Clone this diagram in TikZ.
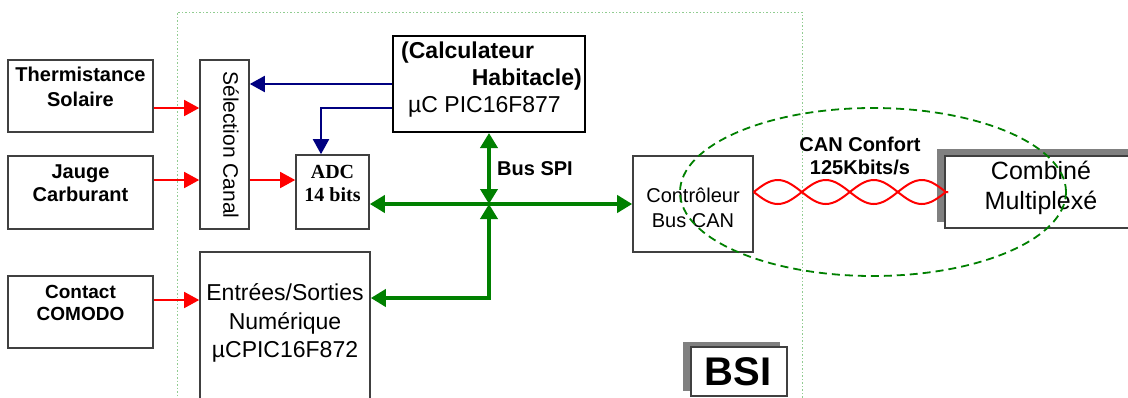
\documentclass[tikz,border=0pt]{standalone}
\usepackage{fontspec}
\setmainfont{Liberation Sans}
\newfontfamily\timesf{Liberation Serif}
\usetikzlibrary{arrows.meta,shapes.geometric,calc}
\definecolor{boxgray}{HTML}{404040}
\definecolor{navyb}{RGB}{0,0,128}
\definecolor{dgreen}{RGB}{0,128,0}
\definecolor{lgreen}{HTML}{90CC90}
\definecolor{shadowgray}{HTML}{808080}
\newcommand\setfs[2]{\fontsize{#1}{#2}\selectfont}
\begin{document}
\begin{tikzpicture}[x=1pt,y=-1pt,
 box/.style={draw=boxgray, line width=1.6pt, fill=white, inner sep=0pt},
 lbl/.style={inner sep=0pt, align=center, text=black},
 redarr/.style={draw=red, line width=1.5pt, -{Triangle[length=15pt,width=16pt]}},
 bluearr/.style={draw=navyb, line width=2pt, -{Triangle[length=15pt,width=16pt]}},
 greenarr/.style={draw=dgreen, line width=4pt, -{Triangle[length=15pt,width=17pt]}},
 twist/.style={draw=red, line width=2pt},
 bsiframe/.style={draw=lgreen, line width=1pt, dash pattern=on 1.5pt off 2pt},
 canring/.style={draw=dgreen, line width=1.8pt, dash pattern=on 8pt off 5pt},
 shadowbox/.style={fill=shadowgray, inner sep=0pt}
]
\clip (0,0) rectangle (1128,397);
\fill[white] (0,0) rectangle (1128,397);

% BSI frame
\node[bsiframe, minimum width=625pt, minimum height=408pt, inner sep=0pt] (frame) at (489.5,216) {};

% source boxes
\node[box, minimum width=145pt, minimum height=72pt] (therm) at (80.5,96) {};
\node[lbl, font=\bfseries\setfs{20}{25}] (thermt) at (80.5,87) {Thermistance\\Solaire};
\node[box, minimum width=145pt, minimum height=73pt] (jauge) at (80.5,192.5) {};
\node[lbl, font=\bfseries\setfs{20}{23}] (jauget) at (80.5,183) {Jauge\\Carburant};
\node[box, minimum width=145pt, minimum height=72pt] (contact) at (80.5,312) {};
\node[lbl, font=\bfseries\setfs{19}{22}] (contactt) at (80.5,303) {Contact\\COMODO};

% Selection canal
\node[box, minimum width=49pt, minimum height=169pt] (sel) at (224.5,144.5) {};
\node[lbl, rotate=-90, font=\setfs{21}{25}] (selt) at (231,145) {Sélection Canal};

% ADC
\node[box, minimum width=73pt, minimum height=74pt] (adc) at (332.5,192) {};
\node[lbl, font=\timesf\bfseries\setfs{20}{23}] (adct) at (332.5,183.5) {ADC\\14 bits};

% Calculateur
\node[draw=black, line width=2pt, fill=white, inner sep=0pt, minimum width=192pt, minimum height=96pt] (calc) at (489,84) {};
\node[lbl, anchor=west, font=\bfseries\setfs{23}{28}] (calc1) at (401,53) {(Calculateur};
\node[lbl, anchor=east, font=\bfseries\setfs{23}{28}] (calc2) at (582,80) {Habitacle)};
\node[lbl, anchor=west, font=\setfs{23}{28}] (calc3) at (408,107) {µC PIC16F877};

% Entrees/Sorties
\node[box, minimum width=170pt, minimum height=168pt] (es) at (285,336) {};
\node[lbl, font=\setfs{23}{28.5}] (est) at (285,323) {Entrées/Sorties\\Numérique\\µCPIC16F872};

% Controleur CAN
\node[box, minimum width=120pt, minimum height=96pt] (ctrl) at (693,204) {};
\node[lbl, font=\setfs{20}{25}] (ctrlt) at (693,207.5) {Contrôleur\\Bus CAN};

% Combine multiplexe
\node[shadowbox, minimum width=195pt, minimum height=73pt] (combsh) at (1034.5,185) {};
\node[box, minimum width=195pt, minimum height=72pt] (comb) at (1042.5,192) {};
\node[lbl, font=\setfs{25}{30}] (combt) at (1041,188) {Combiné\\Multiplexé};

% CAN ring
\node[canring, ellipse, minimum width=386pt, minimum height=168pt, inner sep=0pt] (ring) at (873,192) {};

% CAN labels
\node[lbl, font=\bfseries\setfs{20}{23}] (cant) at (860,156) {CAN Confort\\125Kbits/s};

% BSI label
\node[shadowbox, minimum width=97pt, minimum height=49pt] (bsish) at (731.5,366.5) {};
\node[box, minimum width=96pt, minimum height=49pt] (bsi) at (739,371.5) {};
\node[lbl, font=\bfseries\setfs{40}{44}] (bsit) at (738,372) {BSI};

% red arrows
\draw[redarr] ([yshift=-12pt]therm.east) coordinate (r1) -- (r1 -| sel.west);
\draw[redarr] ([yshift=12.5pt]jauge.east) coordinate (r2) -- (r2 -| sel.west);
\path ([yshift=12pt]adc.west) coordinate (r3);
\draw[redarr] (r3 -| sel.east) -- (r3);
\draw[redarr] ([yshift=12pt]contact.east) coordinate (r4) -- (r4 -| es.west);

% blue arrows
\draw[bluearr] (calc.west) -- (calc.west -| sel.east);
\draw[bluearr] ([yshift=-24pt]calc.west) -| ([xshift=-11.5pt]adc.north);

% green bus
\coordinate (J) at (calc.south |- ctrl.west);
\draw[greenarr, {Triangle[length=15pt,width=17pt]}-{Triangle[length=15pt,width=17pt]}] (calc.south) -- (J);
\draw[greenarr] (J) -- (J -| adc.east);
\draw[greenarr] (J) -- (ctrl.west);
\draw[greenarr, {Triangle[length=15pt,width=17pt]}-{Triangle[length=15pt,width=17pt]}] ([yshift=38pt]es.east) -| (J);

% Bus SPI label
\node[lbl, anchor=west, font=\bfseries\setfs{20}{24}] (spit) at (497,169) {Bus SPI};

% twisted pair
\coordinate (tw0) at (ctrl.east |- comb.west);
\draw[twist] (tw0) sin ++(24,-12) cos ++(24,12) sin ++(24,12) cos ++(24,-12)
  sin ++(24,-12) cos ++(24,12) sin ++(24,12) cos ++(24,-12) -- (comb.west);
\draw[twist] (tw0) sin ++(24,12) cos ++(24,-12) sin ++(24,-12) cos ++(24,12)
  sin ++(24,12) cos ++(24,-12) sin ++(24,-12) cos ++(24,12) -- (comb.west);
\end{tikzpicture}
\end{document}
